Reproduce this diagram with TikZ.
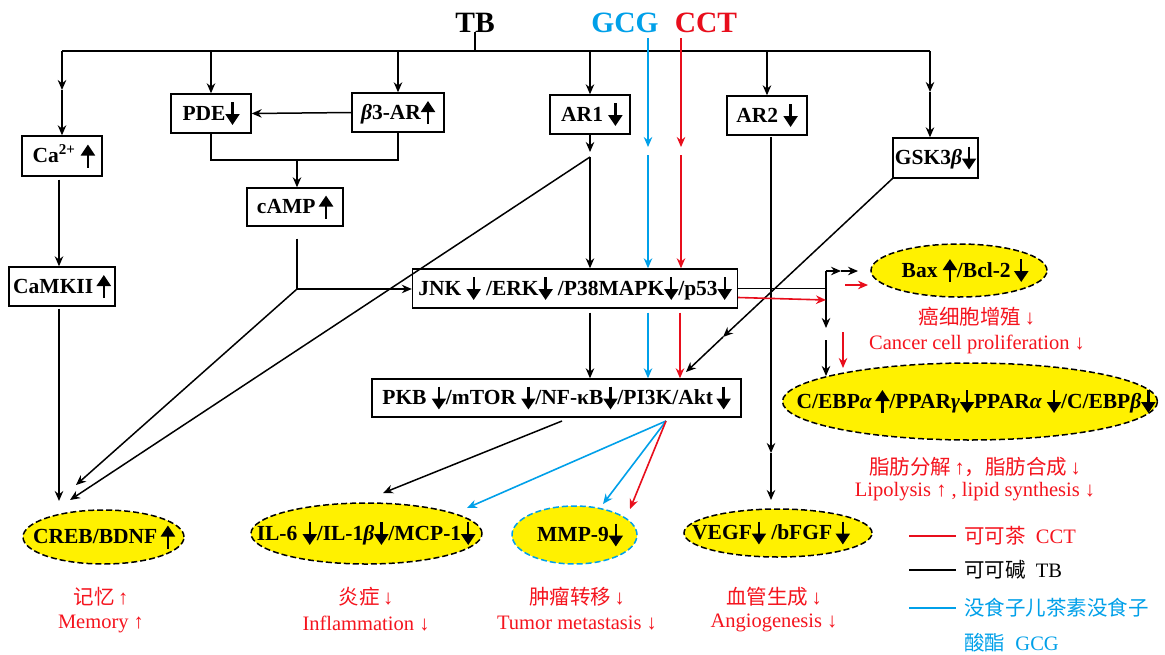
\documentclass[tikz,border=0pt]{standalone}
\usepackage{fontspec}
\setmainfont{Liberation Serif}
\newfontfamily\cjk{Noto Sans CJK SC}
\usetikzlibrary{arrows.meta,shapes.geometric,calc}
\definecolor{cred}{RGB}{232,14,28}
\definecolor{cblue}{RGB}{0,160,233}
\definecolor{cyell}{RGB}{255,241,0}
\definecolor{tred}{RGB}{245,20,30}
\newcommand\dnar{\tikz[x=1pt,y=1pt,baseline=0pt]\draw[line width=2.3pt,-{Triangle[length=11pt,width=14pt]}] (0,18)--(0,-5);}
\newcommand\upar{\tikz[x=1pt,y=1pt,baseline=0pt]\draw[line width=2.3pt,-{Triangle[length=11pt,width=14pt]}] (0,-5)--(0,18);}
\tikzset{
  box/.style={draw, line width=1.4pt, inner sep=0pt, font=\fontsize{21.5}{25}\selectfont\bfseries},
  ell/.style={ellipse, draw, dash pattern=on 6pt off 3pt, fill=cyell, line width=1.5pt, inner sep=0pt},
  etext/.style={inner sep=0pt, font=\fontsize{21.5}{25}\selectfont\bfseries},
  ln/.style={line width=1.5pt},
  arr/.style={line width=1.5pt, -{Stealth[length=10pt,width=8.5pt]}},
  barr/.style={arr, cblue, line width=1.6pt},
  rarr/.style={arr, cred, line width=1.6pt},
  lab/.style={text=tred, inner sep=0pt, font=\fontsize{20.5}{24}\selectfont},
  big/.style={font=\fontsize{29.5}{32}\selectfont\bfseries, inner sep=0pt, anchor=base}
}
\begin{document}
\begin{tikzpicture}[x=1pt,y=-1pt]
\useasboundingbox (0,0) rectangle (1165,654);
\fill[white] (0,0) rectangle (1165,654);
% titles
\node[big] (tb) at (475,32) {TB};
\node[big, text=cblue] (gcg) at (625,32) {GCG};
\node[big, text=cred] (cct) at (706,32) {CCT};
% boxes
\node[box, minimum width=80pt, minimum height=40pt] (ca) at (62,156) {\,Ca\textsuperscript{2+} \upar};
\node[box, minimum width=80pt, minimum height=39pt] (pde) at (211,113.5) {PDE\dnar};
\node[box, minimum width=92pt, minimum height=39pt] (b3) at (398,112.5) {{\itshape β}3-AR\upar};
\node[box, minimum width=96pt, minimum height=38pt] (camp) at (295,207) {cAMP\,\upar};
\node[box, minimum width=106pt, minimum height=39pt] (camk) at (62,286.5) {CaMKII\,\upar};
\node[box, minimum width=80pt, minimum height=39pt] (ar1) at (590,114.5) {\,AR1 \dnar};
\node[box, minimum width=80pt, minimum height=39pt] (ar2) at (767,115.5) {AR2 \dnar};
\node[box, minimum width=85pt, minimum height=40pt] (gsk) at (935.5,158) {GSK3{\itshape β}\dnar};
\node[box, minimum width=325pt, minimum height=39pt] (jnk) at (575,288.5) {JNK \dnar{} /ERK\dnar{} /P38MAPK\dnar/p53\dnar};
\node[box, minimum width=369pt, minimum height=38pt] (pkb) at (556.5,398) {PKB \dnar{}/mTOR \dnar{}/NF-κB\dnar{}/PI3K/Akt\,\dnar};
% ellipses
\node[ell, minimum width=176pt, minimum height=53pt] (bax) at (959,270.5) {};
\node[etext] (baxt) at (965,270.5) {Bax \upar/Bcl-2\,\dnar};
\node[ell, minimum width=375pt, minimum height=77pt] (cebp) at (970,401.5) {};
\node[etext] (cebpt) at (976,401.5) {C/EBP{\itshape α}\,\upar/PPAR{\itshape γ}\dnar PPAR{\itshape α} \dnar/C/EBP{\itshape β}\dnar};
\node[ell, minimum width=161pt, minimum height=54pt] (creb) at (103.5,537) {};
\node[etext] (crebt) at (104,537) {CREB/BDNF\,\upar};
\node[ell, minimum width=231pt, minimum height=61pt] (il6) at (366.5,533.5) {};
\node[etext] (il6t) at (366,533.5) {IL-6 \dnar/IL-1{\itshape β}\dnar/MCP-1\dnar};
\node[ell, draw=cblue, minimum width=125pt, minimum height=58pt] (mmp) at (574.5,535) {};
\node[etext] (mmpt) at (580,535) {MMP-9\dnar};
\node[ell, minimum width=188pt, minimum height=48pt] (vegf) at (778,533) {};
\node[etext] (vegft) at (771,533) {VEGF\dnar{} /bFGF\,\dnar};
% bus
\coordinate (busL) at (62,51);
\coordinate (busR) at (930,51);
\draw[ln] (busL) -- (busR);
\draw[ln] (tb.south) -- (tb.south |- busL);
\coordinate (cam) at (62,90);
\draw[arr] (busL) -- (cam);
\draw[arr] (cam) -- (ca.north);
\draw[arr] (pde.north |- busL) -- (pde.north);
\draw[arr] (b3.north |- busL) -- (b3.north);
\draw[arr] (ar1.north |- busL) -- (ar1.north);
\draw[arr] (ar2.north |- busL) -- (ar2.north);
\coordinate (gskm) at (930,92);
\draw[arr] (busR) -- (gskm);
\draw[arr] (gskm) -- (gskm |- gsk.north);
% PDE / b3 / cAMP
\draw[arr] (b3.west) -- (pde.east);
\coordinate (jc) at (297,160);
\draw[ln] (pde.south) |- (jc) -| (b3.south);
\draw[arr] (jc) -- (jc |- camp.north);
% Ca chain
\draw[arr] ($(ca.south)+(-3,3)$) -- ($(camk.north)+(-3,0)$);
\coordinate (ct1) at (59,501);
\draw[arr] ($(camk.south)+(-3,2)$) -- (ct1);
% cAMP to JNK and CREB
\coordinate (j1) at (297,289);
\draw[ln] ($(camp.south -| j1)+(0,12)$) -- (j1);
\draw[arr] (j1) -- (j1 -| jnk.west);
\coordinate (ct2) at (76,485);
\draw[arr] (j1) -- (ct2);
% AR1
\coordinate (a1t) at (590,152);
\coordinate (a1s) at (590,157);
\draw[arr] (ar1.south) -- (a1t);
\draw[arr] (a1s) -- (a1s |- jnk.north);
\coordinate (ct3) at (70,500);
\draw[arr] (a1s) -- (ct3);
\draw[arr] ($(a1s |- jnk.south)+(0,4)$) -- (a1s |- pkb.north);
% GCG blue
\coordinate (g0) at (648,38);
\coordinate (g1) at (648,147);
\coordinate (g2) at (648,155);
\draw[barr] (g0) -- (g1);
\draw[barr] (g2) -- (g2 |- jnk.north);
\draw[barr] ($(g2 |- jnk.south)+(0,4)$) -- (g2 |- pkb.north);
% CCT red
\coordinate (c0) at (681,38);
\coordinate (c1) at (681,147);
\coordinate (c2) at (681,155);
\draw[rarr] (c0) -- (c1);
\draw[rarr] (c2) -- (c2 |- jnk.north);
\draw[rarr] ($(c2 |- jnk.south)+(-1,4)$) -- ($(c2 |- pkb.north)+(-1,0)$);
% fan from PKB
\coordinate (fan) at (666,421);
\coordinate (tIL) at (467,508);
\coordinate (tMMPb) at (603,504);
\coordinate (tMMPr) at (630,509);
\draw[barr] (fan) -- (tIL);
\draw[barr] (fan) -- (tMMPb);
\draw[rarr] (fan) -- (tMMPr);
\coordinate (p0) at (562,421);
\coordinate (tIL2) at (383,493);
\draw[arr] (p0) -- (tIL2);
% GSK to PKB
\coordinate (gm) at (723,337);
\coordinate (gt) at (686,372);
\draw[arr] (gsk.south west) -- (gm);
\draw[arr] (gm) -- (gt);
% AR2 to VEGF
\coordinate (a2s) at (771,137);
\coordinate (a2m) at (771,453);
\coordinate (a2t) at (771,500);
\draw[arr] (a2s) -- (a2m);
\draw[arr] (a2m) -- (a2t);
% JNK right branch
\coordinate (r1) at (826,271);
\coordinate (r2) at (826,328);
\coordinate (r3) at (826,340);
\coordinate (r4) at (826,376);
\coordinate (h1) at (841,271);
\coordinate (h2) at (858,271);
\draw[ln] (jnk.east) -- (jnk.east -| r1);
\draw[arr] (r1) -- (r2);
\draw[arr] (r3) -- (r4);
\draw[arr] (r1) -- (h1);
\draw[arr] (h1) -- (h2);
\coordinate (rr1) at (826,300);
\draw[rarr] ($(jnk.east)+(0,9)$) -- (rr1);
\coordinate (rb0) at (845,285);
\coordinate (rb1) at (868,285);
\draw[rarr] (rb0) -- (rb1);
\coordinate (rd0) at (843,332);
\coordinate (rd1) at (843,368);
\draw[rarr] (rd0) -- (rd1);
% red labels
\node[lab] (l1) at (977,317) {{\cjk 癌细胞增殖}\,↓};
\node[lab] (l2) at (977,344) {Cancer cell proliferation ↓};
\node[lab] (l3) at (975,467) {{\cjk 脂肪分解}\,↑{\cjk ，脂肪合成}\,↓};
\node[lab] (l4) at (975,492) {Lipolysis ↑ , lipid synthesis ↓};
\node[lab] (l5) at (101,597) {{\cjk 记忆}\,↑};
\node[lab] (l6) at (101,624) {Memory ↑};
\node[lab] (l7) at (366,597) {{\cjk 炎症}\,↓};
\node[lab] (l8) at (366,624) {Inflammation ↓};
\node[lab] (l9) at (577,597) {{\cjk 肿瘤转移}\,↓};
\node[lab] (l10) at (577,623) {Tumor metastasis ↓};
\node[lab] (l11) at (774,597) {{\cjk 血管生成}\,↓};
\node[lab] (l12) at (774,623) {Angiogenesis ↓};
% legend
\coordinate (lg1a) at (909,536); \coordinate (lg1b) at (956,536);
\coordinate (lg2a) at (909,570); \coordinate (lg2b) at (956,570);
\coordinate (lg3a) at (909,608); \coordinate (lg3b) at (956,608);
\draw[cred, line width=2.5pt] (lg1a) -- (lg1b);
\draw[black, line width=2.5pt] (lg2a) -- (lg2b);
\draw[cblue, line width=2.5pt] (lg3a) -- (lg3b);
\node[lab, anchor=west] (lt1) at (964,536) {{\cjk 可可茶}\enspace CCT};
\node[lab, anchor=west, text=black] (lt2) at (964,570) {{\cjk 可可碱}\enspace TB};
\node[lab, anchor=west, text=cblue] (lt3) at (964,608) {\cjk 没食子儿茶素没食子};
\node[lab, anchor=west, text=cblue] (lt4) at (964,643) {{\cjk 酸酯}\enspace GCG};
\end{tikzpicture}
\end{document}
